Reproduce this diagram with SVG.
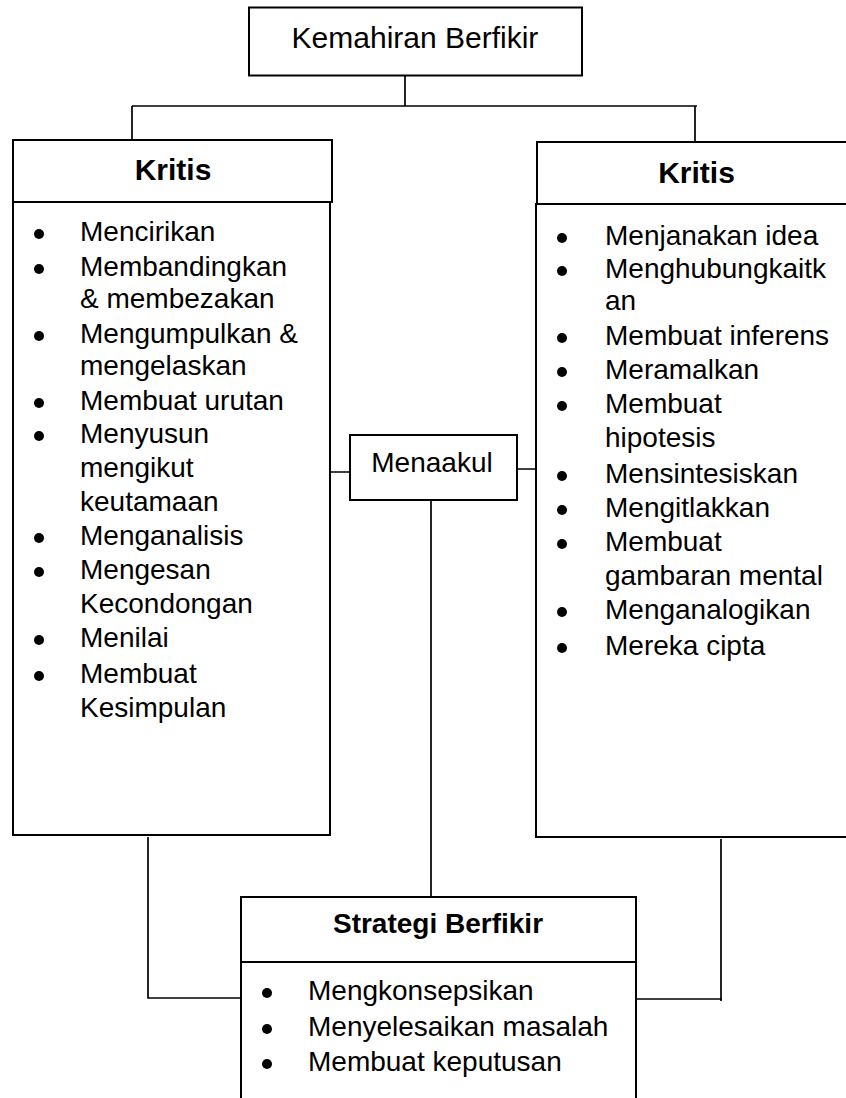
<svg xmlns="http://www.w3.org/2000/svg" width="846" height="1098" viewBox="0 0 846 1098">
<style>
.box{fill:#fff;stroke:#000;stroke-width:2}
.con{fill:none;stroke:#000;stroke-width:1.7}
text{font-family:"Liberation Sans",Arial,sans-serif;fill:#000}
.t{font-size:28px}
.h{font-size:30px}
.b{font-weight:bold}
.dot{fill:#000}
</style>
<rect width="846" height="1098" fill="#fff"/>
<g id="connectors">
<path class="con" d="M405,75 V106 M132,106 H697 M132,106 V140 M695,106 V142"/>
<path class="con" d="M326,472 H350 M517,469 H537 M431,500 V897"/>
<path class="con" d="M148,837 V998 H241 M636,999 H722 M721,839 V1001"/>
</g>
<g id="kemahiran">
<rect class="box" x="249" y="7.5" width="333" height="68"/>
<text class="h" x="415" y="48" text-anchor="middle">Kemahiran Berfikir</text>
</g>
<g id="kritis-left">
<rect class="box" x="13" y="140" width="319" height="62"/>
<rect class="box" x="13" y="202" width="317" height="633"/>
<text class="h b" x="173" y="180" text-anchor="middle">Kritis</text>
<g class="dot">
<circle cx="39" cy="234" r="5"/><circle cx="39" cy="269" r="5"/><circle cx="39" cy="336" r="5"/>
<circle cx="39" cy="403" r="5"/><circle cx="39" cy="436" r="5"/><circle cx="39" cy="538" r="5"/>
<circle cx="39" cy="572" r="5"/><circle cx="39" cy="640" r="5"/><circle cx="39" cy="676" r="5"/>
</g>
<g class="t">
<text x="80" y="241">Mencirikan</text>
<text x="80" y="276">Membandingkan</text>
<text x="80" y="308">&amp; membezakan</text>
<text x="80" y="343">Mengumpulkan &amp;</text>
<text x="80" y="375">mengelaskan</text>
<text x="80" y="410">Membuat urutan</text>
<text x="80" y="443">Menyusun</text>
<text x="80" y="477">mengikut</text>
<text x="80" y="511">keutamaan</text>
<text x="80" y="545">Menganalisis</text>
<text x="80" y="579">Mengesan</text>
<text x="80" y="613">Kecondongan</text>
<text x="80" y="647">Menilai</text>
<text x="80" y="683">Membuat</text>
<text x="80" y="717">Kesimpulan</text>
</g>
</g>
<g id="kritis-right">
<rect class="box" x="537" y="142" width="320" height="62"/>
<rect class="box" x="536" y="204" width="321" height="633"/>
<text class="h b" x="696.5" y="183" text-anchor="middle">Kritis</text>
<g class="dot">
<circle cx="562" cy="238" r="5"/><circle cx="562" cy="271" r="5"/><circle cx="562" cy="338" r="5"/>
<circle cx="562" cy="372" r="5"/><circle cx="562" cy="406" r="5"/><circle cx="562" cy="476" r="5"/>
<circle cx="562" cy="510" r="5"/><circle cx="562" cy="544" r="5"/><circle cx="562" cy="612" r="5"/>
<circle cx="562" cy="648" r="5"/>
</g>
<g class="t">
<text x="605" y="245">Menjanakan idea</text>
<text x="605" y="278">Menghubungkaitk</text>
<text x="605" y="310">an</text>
<text x="605" y="345">Membuat inferens</text>
<text x="605" y="379">Meramalkan</text>
<text x="605" y="413">Membuat</text>
<text x="605" y="447">hipotesis</text>
<text x="605" y="483">Mensintesiskan</text>
<text x="605" y="517">Mengitlakkan</text>
<text x="605" y="551">Membuat</text>
<text x="605" y="585">gambaran mental</text>
<text x="605" y="619">Menganalogikan</text>
<text x="605" y="655">Mereka cipta</text>
</g>
</g>
<g id="menaakul">
<rect class="box" x="350" y="435" width="167" height="65"/>
<text class="t" x="432" y="472" text-anchor="middle">Menaakul</text>
</g>
<g id="strategi">
<rect class="box" x="241" y="897" width="395" height="65"/>
<rect class="box" x="241" y="962" width="395" height="150"/>
<text class="t b" x="438" y="933" text-anchor="middle">Strategi Berfikir</text>
<g class="dot">
<circle cx="267" cy="993" r="5"/><circle cx="267" cy="1029" r="5"/><circle cx="267" cy="1064" r="5"/>
</g>
<g class="t">
<text x="308" y="1000">Mengkonsepsikan</text>
<text x="308" y="1036">Menyelesaikan masalah</text>
<text x="308" y="1071">Membuat keputusan</text>
</g>
</g>
</svg>
